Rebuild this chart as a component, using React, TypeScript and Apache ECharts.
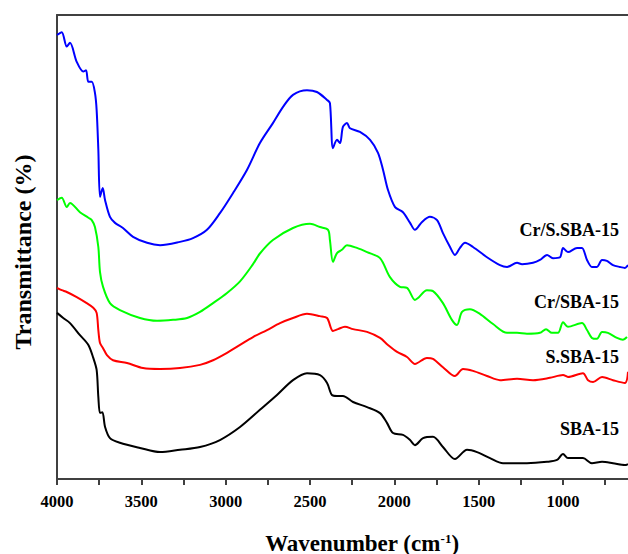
import React, { useEffect, useRef } from 'react';
import * as echarts from 'echarts';

// Wavenumber (cm-1) and relative transmittance (arbitrary units, 0 = bottom, 100 = top of frame)
const crsWavenumber = [4000, 3972, 3942, 3923, 3883, 3844, 3828, 3814, 3794, 3775, 3765, 3755, 3745, 3729, 3715, 3686, 3656, 3609, 3549, 3466, 3389, 3271, 3194, 3111, 3034, 2957, 2874, 2797, 2720, 2660, 2601, 2518, 2459, 2399, 2382, 2364, 2340, 2322, 2305, 2281, 2263, 2204, 2144, 2097, 2067, 2038, 1996, 1949, 1907, 1878, 1836, 1789, 1747, 1712, 1670, 1641, 1611, 1581, 1534, 1451, 1374, 1332, 1273, 1243, 1178, 1137, 1095, 1060, 1018, 1000, 971, 917, 888, 858, 829, 799, 769, 740, 704, 663, 633, 615];
const crsTransmittance = [95.7, 96.3, 93.2, 94.0, 89.9, 87.8, 88.1, 85.6, 85.6, 83.2, 79.5, 71.0, 60.8, 62.7, 60.1, 56.5, 55.2, 54.1, 52.2, 50.9, 50.4, 51.1, 51.9, 53.7, 57.3, 61.6, 66.6, 72.4, 76.7, 80.2, 82.8, 83.8, 83.4, 81.7, 81.0, 71.3, 73.1, 72.4, 75.9, 76.7, 75.6, 74.8, 73.1, 70.3, 66.6, 62.3, 58.6, 57.5, 55.2, 53.7, 55.4, 56.5, 55.8, 53.0, 50.0, 48.3, 49.8, 50.9, 50.0, 47.8, 46.1, 45.7, 46.6, 46.3, 46.6, 47.2, 48.3, 47.6, 47.8, 49.8, 48.9, 49.8, 49.8, 47.2, 45.7, 45.7, 47.2, 47.0, 46.1, 45.7, 45.5, 46.1];

const crWavenumber = [4000, 3972, 3942, 3923, 3864, 3814, 3794, 3775, 3755, 3745, 3727, 3686, 3627, 3508, 3407, 3312, 3229, 3152, 3075, 2992, 2915, 2838, 2797, 2720, 2601, 2500, 2441, 2393, 2382, 2364, 2340, 2311, 2281, 2222, 2162, 2085, 2026, 1967, 1925, 1878, 1860, 1807, 1771, 1712, 1659, 1629, 1599, 1552, 1493, 1415, 1332, 1273, 1214, 1137, 1101, 1066, 1030, 1000, 971, 888, 858, 829, 799, 769, 734, 680, 645, 621];
const crTransmittance = [60.1, 60.6, 58.6, 59.5, 57.5, 56.3, 55.8, 54.3, 50.0, 44.6, 41.4, 37.9, 36.4, 34.7, 34.1, 34.3, 34.7, 36.0, 37.9, 40.1, 42.6, 46.3, 48.6, 51.5, 54.1, 55.0, 54.3, 53.7, 51.5, 46.8, 48.7, 49.4, 50.4, 49.8, 48.9, 47.6, 43.5, 41.4, 41.2, 38.6, 39.0, 40.7, 40.5, 37.9, 34.3, 33.2, 36.0, 36.6, 35.6, 33.4, 31.5, 31.5, 31.3, 31.5, 32.3, 31.5, 31.5, 33.8, 32.8, 33.6, 32.1, 30.4, 30.2, 31.7, 31.5, 30.4, 30.0, 30.6];

const sWavenumber = [4000, 3972, 3942, 3883, 3824, 3785, 3765, 3755, 3745, 3727, 3704, 3668, 3585, 3490, 3389, 3271, 3152, 3075, 2992, 2915, 2838, 2755, 2678, 2601, 2518, 2441, 2399, 2364, 2334, 2293, 2245, 2162, 2085, 2038, 1984, 1925, 1878, 1807, 1771, 1712, 1641, 1593, 1534, 1451, 1374, 1273, 1178, 1078, 1000, 971, 882, 852, 822, 769, 704, 633, 615];
const sTransmittance = [41.2, 40.7, 40.3, 39.2, 37.9, 36.9, 35.8, 32.1, 29.3, 28.2, 26.7, 25.6, 25.0, 23.9, 23.7, 23.9, 24.6, 25.6, 27.2, 28.9, 30.6, 32.1, 33.6, 34.7, 35.6, 35.1, 34.7, 31.9, 32.3, 32.8, 32.3, 31.7, 30.4, 28.9, 27.4, 26.3, 24.8, 26.1, 25.9, 24.1, 22.2, 23.7, 23.3, 22.2, 21.3, 21.6, 21.3, 21.8, 22.4, 22.0, 22.8, 21.3, 20.9, 22.0, 21.3, 20.7, 23.1];

const sbaWavenumber = [4000, 3963, 3923, 3864, 3814, 3785, 3765, 3755, 3745, 3731, 3715, 3686, 3627, 3508, 3389, 3271, 3152, 3034, 2915, 2797, 2696, 2601, 2518, 2441, 2399, 2370, 2340, 2305, 2245, 2162, 2085, 2044, 2008, 1949, 1907, 1878, 1830, 1771, 1712, 1641, 1569, 1510, 1433, 1356, 1214, 1095, 1036, 1000, 971, 882, 829, 769, 704, 633, 615];
const sbaTransmittance = [35.8, 34.7, 33.6, 31.0, 28.9, 26.1, 23.5, 17.7, 14.2, 14.4, 11.2, 8.8, 7.8, 6.7, 5.8, 6.3, 6.9, 8.4, 11.2, 14.9, 18.1, 21.3, 22.8, 22.4, 20.7, 18.1, 17.9, 17.9, 16.6, 15.5, 14.2, 12.1, 9.9, 9.5, 8.4, 7.3, 8.8, 9.1, 6.9, 4.3, 6.3, 5.8, 4.5, 3.4, 3.4, 3.7, 4.1, 5.4, 4.5, 4.5, 3.4, 3.7, 3.4, 3.0, 3.2];

const seriesNames = ['Cr/S.SBA-15', 'Cr/SBA-15', 'S.SBA-15', 'SBA-15'];
const seriesColors = ['#0000ff', '#00ff00', '#ff0000', '#000000'];
const tickValues = [4000, 3750, 3500, 3250, 3000, 2750, 2500, 2250, 2000, 1750, 1500, 1250, 1000, 750];
const labelValues = [4000, 3500, 3000, 2500, 2000, 1500, 1000];
const xStart = 4000;
const xEnd = 615;

const FONT = '"Liberation Serif", "Times New Roman", serif';

export default function App() {
  const ref = useRef<HTMLDivElement>(null);
  useEffect(() => {
    if (!ref.current) return;
    const chart = echarts.init(ref.current, undefined, { renderer: 'svg' });
    const toPairs = (w: number[], t: number[]) => w.map((x, i) => [xStart - x, t[i]]);
    const sets = [
      toPairs(crsWavenumber, crsTransmittance),
      toPairs(crWavenumber, crTransmittance),
      toPairs(sWavenumber, sTransmittance),
      toPairs(sbaWavenumber, sbaTransmittance),
    ];
    const axisColor = '#404040';
    const labelY = [230, 302, 357, 429];
    chart.setOption({
      animation: false,
      grid: { left: 57, right: 0, top: 15, bottom: 75, show: false },
      xAxis: [
        {
          type: 'value',
          min: 0,
          max: xStart - xEnd,
          position: 'bottom',
          axisLine: { show: true, onZero: false, lineStyle: { color: axisColor, width: 2 } },
          axisTick: {
            show: true,
            inside: false,
            length: 6,
            lineStyle: { color: axisColor, width: 2 },
            customValues: tickValues.map((v) => xStart - v),
          },
          axisLabel: {
            show: true,
            margin: 14,
            customValues: labelValues.map((v) => xStart - v),
            formatter: (v: number) => String(xStart - v),
            fontFamily: FONT,
            fontWeight: 'bold',
            fontSize: 16.5,
            color: '#000',
          },
          splitLine: { show: false },
        },
        {
          type: 'value',
          min: 0,
          max: xStart - xEnd,
          position: 'top',
          axisLine: { show: true, onZero: false, lineStyle: { color: axisColor, width: 2 } },
          axisTick: { show: false },
          axisLabel: { show: false },
          splitLine: { show: false },
        },
      ],
      yAxis: {
        type: 'value',
        min: 0,
        max: 100,
        axisLine: { show: true, onZero: false, lineStyle: { color: axisColor, width: 2 } },
        axisTick: { show: false },
        axisLabel: { show: false },
        splitLine: { show: false },
      },
      series: sets.map((d, i) => ({
        name: seriesNames[i],
        type: 'line',
        data: d,
        showSymbol: false,
        smooth: 0.3,
        lineStyle: { color: seriesColors[i], width: 2, join: 'round' },
        itemStyle: { color: seriesColors[i] },
      })),
      graphic: [
        ...seriesNames.map((n, i) => ({
          type: 'text',
          x: 619,
          y: labelY[i],
          style: {
            text: n,
            fill: '#000',
            font: `bold 18px ${FONT}`,
            textAlign: 'right',
            textVerticalAlign: 'middle',
          },
        })),
        {
          type: 'text',
          x: 362,
          y: 543,
          style: {
            text: '{a|Wavenumber (cm}{b|-1}{a|)}',
            textAlign: 'center',
            textVerticalAlign: 'middle',
            rich: {
              a: { fontFamily: FONT, fontWeight: 'bold', fontSize: 23, fill: '#000', color: '#000' },
              b: { fontFamily: FONT, fontWeight: 'bold', fontSize: 13, fill: '#000', color: '#000', verticalAlign: 'top', padding: [0, 0, 10, 0] },
            },
          },
        },
        {
          type: 'text',
          x: 23,
          y: 252,
          rotation: Math.PI / 2,
          style: {
            text: 'Transmittance (%)',
            fill: '#000',
            font: `bold 24px ${FONT}`,
            textAlign: 'center',
            textVerticalAlign: 'middle',
          },
        },
      ],
    });
    return () => chart.dispose();
  }, []);
  return (
    <div style={{ position: 'fixed', left: 0, top: 0, width: 628, height: 554, background: '#fff' }}>
      <div ref={ref} style={{ width: 628, height: 554 }} />
    </div>
  );
}
